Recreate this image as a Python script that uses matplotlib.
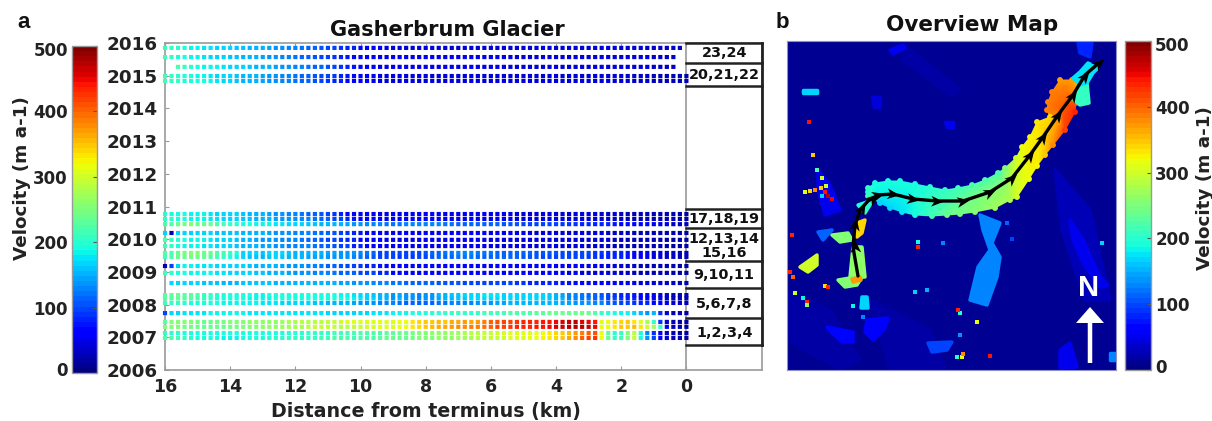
import numpy as np
import matplotlib
matplotlib.use("Agg")
import matplotlib.pyplot as plt
from matplotlib.cm import ScalarMappable
from matplotlib.collections import PolyCollection
from matplotlib.colors import Normalize
from matplotlib.markers import MarkerStyle
from matplotlib.path import Path
from matplotlib.transforms import Affine2D, ScaledTranslation

plt.rcParams['font.family'] = 'DejaVu Sans'
plt.rcParams['font.weight'] = 'bold'

W, H = 1212, 421
TXT = '#222222'
GRAY = '#9a9a9a'

# distance of every dot, 16 km to 0 km, 0.2 km apart
distance = 16 - 0.2 * np.arange(81)

# year position of each velocity profile, bottom to top
row_years = [2006.98, 2007.13, 2007.32, 2007.47, 2007.74, 2008.05, 2008.19, 2008.29,
             2008.66, 2008.97, 2009.18, 2009.46, 2009.58, 2009.79, 2009.98, 2010.19,
             2010.46, 2010.62, 2010.77, 2014.84, 2014.99, 2015.27, 2015.57, 2015.85]

# velocity (m a-1) read along each profile
rows = [
 [220,225,215,205,200,195,195,190,190,185, 185,185,190,190,190,195,200,200,200,205, 205,205,210,210,215,215,220,225,220,215, 220,225,225,230,235,235,240,240,245,250, 250,255,260,260,265,270,270,280,285,290, 290,295,300,305,305,310,315,320,325,330, 340,350,360,380,400,420,425,320,240,205, 215,255,290,190,140,100,60,40,30,25, 20],
 [205,200,200,195,195,190,190,190,190,190, 190,190,190,190,195,195,195,195,195,200, 200,200,205,205,210,210,215,215,215,215, 220,220,225,225,230,230,235,240,245,250, 255,260,265,265,270,270,280,285,285,295, 295,300,300,305,305,310,310,315,320,330, 340,345,355,370,385,405,410,320,230,200, 210,250,285,195,130,90,55,35,25,20, 20],
 [250,255,250,245,245,240,240,240,240,240, 245,245,250,255,255,260,265,265,270,270, 275,280,285,290,290,290,290,285,285,290, 295,300,300,305,305,310,315,320,330,340, 350,355,360,365,370,375,380,385,390,395, 405,415,420,425,430,430,435,440,445,450, 455,465,470,475,470,465,450,320,320,335, 345,350,355,330,300,270,210,60,35,25, 20],
 [230,250,255,250,250,245,240,240,245,245, 250,250,255,260,260,265,265,265,270,275, 280,285,285,285,285,290,295,300,310,305, 310,310,310,305,310,310,315,320,330,340, 345,350,355,350,360,365,370,365,370,385, 400,410,415,420,425,430,430,435,440,445, 450,460,465,470,460,450,440,310,315,330, 340,345,335,310,280,205,90,35,25,20, 20],
 [100,170,170,175,175,175,175,180,180,180, 180,180,180,175,175,175,175,175,175,175, 175,175,175,175,175,170,170,170,170,170, 170,170,175,175,175,180,185,185,190,195, 195,200,200,205,205,205,205,210,210,215, 215,215,215,220,220,225,225,230,230,235, 235,240,240,240,245,235,225,210,200,190, 185,180,170,155,140,150,90,45,30,25, 20],
 [215,210,205,200,195,195,190,190,190,185, 185,185,180,180,180,175,175,175,170,170, 170,165,165,160,160,155,155,150,150,145, 140,140,135,130,125,125,120,115,115,110, 110,115,120,120,125,125,130,130,135,135, 140,145,145,150,150,155,155,155,150,150, 150,145,145,140,140,135,130,125,115,105, 100,100,90,85,80,70,60,50,40,35, 30],
 [225,225,230,220,225,215,205,200,195,195, 190,190,190,185,185,185,185,190,190,190, 190,190,190,190,190,190,190,190,190,185, 175,170,165,150,155,140,150,140,135,130, 135,140,145,150,155,160,160,165,165,170, 170,170,170,170,165,165,165,170,165,160, 155,150,130,130,120,120,115,110,100,95, 90,85,80,70,60,50,50,35,30,25, 25],
 [230,230,235,230,230,220,210,205,200,195, 195,190,190,190,185,185,190,190,190,190, 190,190,190,190,190,190,190,185,180,175, 170,165,160,150,150,140,145,135,135,130, 135,140,150,150,160,160,165,170,170,175, 175,175,170,170,170,170,170,170,165,160, 150,145,130,125,120,115,110,105,95,90, 85,80,75,65,55,50,45,35,30,25, 25],
 [None,170,170,170,165,165,160,160,160,155, 155,155,160,160,160,160,160,155,155,155, 155,155,155,150,150,150,150,145,145,140, 135,135,130,125,125,120,120,115,115,110, 110,110,105,105,105,105,100,100,100,100, 100,95,95,95,90,90,85,85,85,80, 80,75,75,70,70,65,65,60,60,55, 55,50,50,45,45,40,40,35,35,30, 30],
 [215,200,190,190,185,185,180,180,175,175, 170,170,165,165,160,160,155,150,150,145, 140,140,135,130,130,125,120,115,115,110, 100,100,95,85,80,70,65,60,60,60, 60,65,65,65,65,65,65,65,65,65, 60,60,60,60,60,60,60,55,55,55, 55,55,50,50,45,45,45,40,40,40, 35,35,30,30,30,25,25,25,20,20, 20],
 [30,100,170,180,180,175,175,175,170,170, 170,165,165,160,155,155,150,150,145,140, 135,135,130,125,120,115,110,105,100,95, 90,85,80,75,65,60,60,60,65,65, 65,70,70,70,70,70,70,70,70,65, 65,65,65,65,65,60,60,60,60,60, 60,55,55,55,50,50,50,45,45,40, 40,35,35,30,30,30,25,25,25,20, 20],
 [215,220,235,240,245,240,235,225,215,205, 195,185,165,160,160,155,160,165,160,155, 150,150,145,145,145,140,140,135,135,125, 120,115,105,100,95,95,90,95,90,95, 100,105,110,115,115,120,120,120,115,115, 115,110,110,110,110,105,105,105,100,100, 100,100,95,95,95,90,90,85,85,80, 80,75,70,60,50,45,40,35,35,30, 30],
 [225,225,240,245,250,250,240,235,225,215, 205,190,170,165,165,160,165,170,165,160, 155,155,150,150,150,145,145,140,140,135, 125,120,110,100,100,100,95,100,95,100, 105,110,115,120,120,125,125,125,120,120, 120,115,115,115,110,110,110,105,105,105, 105,100,100,100,95,95,90,90,85,85, 80,75,70,60,50,45,40,35,35,30, 30],
 [215,205,195,185,180,180,175,175,170,170, 165,160,155,150,150,145,145,140,135,130, 130,125,125,120,115,110,105,100,95,85, 80,70,65,60,55,50,50,50,50,50, 50,50,50,50,50,50,50,50,50,50, 50,45,45,45,45,45,45,45,45,40, 40,40,40,40,40,35,35,35,35,30, 30,30,30,25,25,25,25,20,20,20, 20],
 [225,210,200,190,185,180,180,175,170,170, 165,160,155,150,145,140,140,135,130,125, 125,120,115,110,105,100,95,90,85,80, 70,65,60,55,50,50,45,45,45,50, 50,50,50,50,50,50,50,50,50,50, 45,45,45,45,45,45,45,45,45,40, 40,40,40,40,35,35,35,35,35,30, 30,30,30,25,25,25,20,20,20,20, 20],
 [170,30,170,170,170,165,165,165,160,160, 160,160,155,155,150,150,145,140,140,135, 130,130,125,120,115,110,105,100,90,85, 75,65,60,55,50,50,50,55,55,55, 60,60,60,60,60,55,55,55,55,55, 50,50,50,50,50,50,45,45,45,45, 45,45,40,40,40,40,40,40,35,35, 35,35,30,30,30,25,25,25,25,25, 20],
 [225,220,240,245,250,240,240,235,225,215, 205,200,195,190,185,180,180,175,175,170, 165,165,160,160,155,155,150,150,145,140, 135,130,125,125,120,120,120,125,125,130, 130,125,125,120,120,115,115,115,110,110, 110,110,105,105,105,100,100,100,100,95, 95,90,90,90,85,85,85,85,80,75, 70,70,65,60,55,50,45,40,35,30, 30],
 [210,200,195,190,185,180,180,175,175,170, 165,165,160,160,155,150,150,145,140,140, 135,130,125,120,115,110,100,95,85,75, 70,65,60,55,50,50,50,50,55,55, 55,55,55,50,50,50,50,50,50,50, 50,50,50,50,45,45,45,45,45,45, 45,40,40,40,40,40,40,35,35,35, 35,30,30,30,25,25,25,25,25,20, 20],
 [200,195,195,190,185,180,180,175,170,170, 165,165,160,155,155,150,145,140,135,130, 125,120,115,110,105,100,90,80,70,65, 60,55,50,50,50,50,50,50,50,55, 55,55,55,50,50,50,50,50,50,50, 50,50,50,50,45,45,45,45,45,45, 45,40,40,40,40,40,40,35,35,35, 35,30,30,30,25,25,25,25,25,20, 20],
 [215,205,210,195,195,190,190,180,175,170, 165,160,155,150,150,145,140,135,130,125, 120,115,110,105,95,90,85,80,70,65, 60,55,50,45,45,40,40,40,40,40, 45,45,45,45,45,45,45,45,45,45, 45,45,45,45,45,45,45,45,45,40, 40,40,40,40,40,40,40,40,40,40, 40,35,35,35,35,30,30,30,30,30, 25],
 [215,210,200,195,190,185,185,175,170,170, 165,160,155,150,150,145,140,135,130,125, 120,115,110,105,100,95,90,85,75,70, 65,60,55,50,45,45,45,45,45,45, 45,45,45,45,45,45,45,45,45,45, 45,45,45,45,45,45,45,45,45,40, 40,40,40,40,40,40,40,40,40,40, 40,35,35,35,35,30,30,30,30,30, 25],
 [None,None,225,205,200,190,185,180,180,175, 170,170,165,160,155,150,150,145,140,135, 130,125,120,115,110,105,95,90,80,75, 70,60,55,50,50,50,50,50,50,50, 50,50,50,50,50,50,50,50,50,50, 50,50,45,45,45,45,45,45,45,45, 45,45,45,45,45,45,45,40,40,40, 40,40,40,40,40,35,35,35,35,None, None],
 [215,205,195,190,185,180,175,170,170,165, 160,160,155,150,150,145,140,135,130,125, 120,115,110,105,100,95,90,80,75,70, 65,60,55,50,50,50,50,50,50,50, 50,50,50,50,50,50,50,50,50,50, 50,50,45,45,45,45,45,45,45,45, 45,45,45,45,45,45,45,40,40,40, 40,40,40,40,40,35,35,35,35,None, None],
 [205,205,200,195,185,180,175,175,170,170, 165,160,160,155,150,150,145,140,135,130, 125,120,115,110,105,100,95,90,85,80, 70,65,60,55,50,45,45,45,45,45, 45,45,45,45,45,45,45,45,45,45, 45,45,45,45,45,45,45,45,45,45, 45,45,45,45,45,40,40,40,40,40, 40,40,40,40,35,35,35,35,35,30, None],
]

year_ticks = [2006, 2007, 2008, 2009, 2010, 2011, 2012, 2013, 2014, 2015, 2016]
dist_ticks = [16, 14, 12, 10, 8, 6, 4, 2, 0]
vel_ticks = [0, 100, 200, 300, 400, 500]

# image groups shown in the side column
box_edges = [2016, 2015.39, 2014.68, 2010.91, 2010.34, 2009.33, 2008.51, 2007.59, 2006.76]
box_labels = ['23,24', '20,21,22', '17,18,19', '12,13,14', '15,16', '9,10,11', '5,6,7,8', '1,2,3,4']
box_label_years = [2015.70, 2015.02, 2010.62, 2010.01, 2009.58, 2008.90, 2008.01, 2007.12]

# overview map, coordinates are map pixels
map_background = 12
# glacier cross-sections: top x,y,v / middle x,y,v / bottom x,y,v
glacier_sections = [
    (868,188,210, 868,192,200, 868,196,205),
    (875,183,190, 878,193,185, 880,203,170),
    (888,181,190, 888,193,180, 890,208,165),
    (900,181,190, 902,197,185, 902,212,175),
    (915,184,195, 915,199,190, 915,215,190),
    (930,187,200, 930,200,205, 932,216,215),
    (945,190,205, 945,201,215, 947,215,235),
    (958,188,215, 958,201,230, 960,214,245),
    (972,185,225, 974,198,245, 975,212,255),
    (985,180,225, 990,192,255, 995,208,270),
    (998,173,225, 1005,185,265, 1010,200,280),
    (1005,168,250, 1013,180,290, 1017,197,300),
    (1016,158,300, 1025,167,315, 1029,179,315),
    (1022,147,320, 1032,155,330, 1037,166,325),
    (1030,137,325, 1040,140,335, 1045,155,345),
    (1037,122,330, 1047,132,345, 1053,145,380),
    (1050,117,340, 1058,122,370, 1065,130,420),
    (1047,110,385, 1062,108,400, 1075,112,430),
    (1048,102,385, 1062,98,395, 1076,103,410),
    (1052,92,385, 1065,88,390, 1076,93,380),
    (1060,80,370, 1072,80,370, 1082,86,340),
]
map_patch_values = [22, 22, 20, 24, 50, 45, 50, 170, 50, 80, 125, 50, 70, 60, 100, 50, 130, 170,
                    110, 250, 300, 260, 250, 370, 200, 340, 210, 175]
map_patches = [
    [(787,290),(830,310),(860,360),(840,369),(787,340)],
    [(905,45),(945,78),(960,90),(950,95),(903,60)],
    [(870,300),(930,330),(945,369),(890,369)],
    [(1055,170),(1090,210),(1110,300),(1085,300),(1062,230)],
    [(890,50),(903,45),(905,48),(893,54)],
    [(872,97),(880,97),(880,107),(874,107)],
    [(945,122),(953,122),(953,127),(947,127)],
    [(803,90),(817,90),(817,93),(803,93)],
    [(818,170),(830,185),(840,210),(825,215),(818,190)],
    [(1078,43),(1092,43),(1090,57),(1080,53)],
    [(980,215),(1000,223),(992,243),(1000,257),(997,277),(987,305),(970,300),(978,267),(990,250),(983,230)],
    [(1070,220),(1083,240),(1100,277),(1108,285),(1100,287),(1083,263),(1073,240)],
    [(827,327),(853,332),(853,342),(842,342),(832,333)],
    [(867,320),(888,318),(885,328),(873,340),(865,332)],
    [(928,343),(952,342),(947,350),(932,352)],
    [(1060,350),(1070,343),(1077,367),(1060,368)],
    [(1110,353),(1115,353),(1115,360),(1110,360)],
    [(862,297),(867,297),(868,308),(861,308)],
    [(818,232),(832,230),(823,240)],
    [(832,235),(848,233),(852,240),(840,242)],
    [(800,267),(810,260),(817,255),(817,265),(808,272)],
    [(853,247),(862,247),(865,277),(850,277)],
    [(838,280),(850,278),(862,277),(857,285),(845,287)],
    [(852,279),(860,277),(861,280),(853,282)],
    [(858,205),(873,200),(865,213)],
    [(857,223),(865,220),(862,233),(857,237)],
    [(1080,83),(1087,83),(1089,103),(1080,105),(1074,100)],
    [(1080,72),(1088,63),(1098,68),(1093,73),(1087,83),(1080,85),(1073,78)],
]
speck_x = [805,810,815,821,826,825,828,832,822,813,809,817,822,792,790,793,825,828,795,807,807,803,
           960,958,977,962,963,957,990,918,918,943,1102,1007,1012,853,915,927,960,863]
speck_y = [192,191,190,188,186,192,196,199,196,155,122,170,178,235,272,277,286,287,293,302,305,298,
           313,310,322,357,354,357,356,242,247,243,243,223,239,306,292,290,335,317]
speck_v = [310,340,380,350,300,440,470,450,170,350,440,220,300,430,430,400,340,430,300,430,260,180,
           200,430,320,320,380,200,440,190,430,130,170,110,100,180,170,150,140,130]
flow_x = [858,853,855,860,868,878,893,913,937,963,990,1012,1030,1043,1058,1073,1085,1100]
flow_y = [276,247,225,210,201,195,194,199,201,201,192,178,155,137,115,95,75,62]
arrow_x = [855,855,862,873,878,893,913,937,963,990,1012,1030,1043,1058,1073,1085,1099]
arrow_y = [246,224,208,198,195,194,199,201,201,192,178,155,137,115,95,76,63]


def fig_x(px):
    return px / W


def fig_y(py):
    return 1 - py / H


def add_axes(left, top, right, bottom):
    return fig.add_axes([fig_x(left), fig_y(bottom), (right - left) / W, (bottom - top) / H])


def style_colorbar(cax, labels_left):
    for s in cax.spines.values():
        s.set_color(GRAY)
        s.set_linewidth(1)
    cax.tick_params(axis='y', left=False, right=True, direction='in', length=3, color='#555555',
                    labelleft=labels_left, labelright=not labels_left, labelsize=12, labelcolor=TXT, pad=3)
    cax.set_yticks(vel_ticks)
    for lab, val in zip(cax.get_yticklabels(), vel_ticks):
        shift = {0: 3, 500: -2}.get(val, 0)
        lab.set_transform(lab.get_transform() + ScaledTranslation(0, shift / 72, fig.dpi_scale_trans))


fig = plt.figure(figsize=(W / 100, H / 100), dpi=100)
cmap = plt.get_cmap('jet', 64)
norm = Normalize(0, 500)

# panel a
ax = add_axes(165, 43, 762, 370)
for r_year, r_vals in zip(row_years, rows):
    dots = ax.scatter(distance, np.full(81, r_year), c=np.array(r_vals, dtype=float), cmap=cmap, norm=norm,
                      s=9, marker='s', linewidths=0, zorder=3, clip_on=False)
    dots.set_snap(False)
ax.set_xlim(16, -2.32)
ax.set_ylim(2006, 2016)
ax.set_xticks(dist_ticks)
ax.set_yticks(year_ticks)
ax.tick_params(axis='both', direction='in', length=3, color=GRAY, labelcolor=TXT, top=True)
ax.tick_params(axis='x', labelsize=12.5, pad=6)
ax.tick_params(axis='y', labelsize=13.2, pad=5)
for s in ax.spines.values():
    s.set_color(GRAY)
    s.set_linewidth(1.2)
ax.axvline(0, color=GRAY, lw=1.2, zorder=2)
ax.plot([-2.32, -2.32], [box_edges[-1], box_edges[0]], color='#222222', lw=2, clip_on=False, zorder=4)
for e in box_edges:
    ax.plot([0, -2.32], [e, e], color='#222222', lw=1.8, clip_on=False, zorder=4)
for lab, ly in zip(box_labels, box_label_years):
    ax.text(-1.16, ly, lab, ha='center', va='center', fontsize=10.4, color='#111111', zorder=5)

fig.text(fig_x(447), fig_y(30), 'Gasherbrum Glacier', ha='center', va='center', fontsize=15, color='#111111')
fig.text(fig_x(426), fig_y(411), 'Distance from terminus (km)', ha='center', va='center', fontsize=13.7, color=TXT)
fig.text(fig_x(17), fig_y(22), 'a', ha='left', va='center', fontsize=16, family='Liberation Sans', color='#111111')
fig.text(fig_x(776), fig_y(22), 'b', ha='left', va='center', fontsize=16, family='Liberation Sans', color='#111111')

# left colorbar
cax_a = add_axes(72, 46, 97, 373)
fig.colorbar(ScalarMappable(norm=norm, cmap=cmap), cax=cax_a)
cax_a.yaxis.set_ticks_position('left')
style_colorbar(cax_a, True)
fig.text(fig_x(22), fig_y(178), 'Velocity (m a-1)', rotation=90, ha='center', va='center', fontsize=13.2, color=TXT)

# panel b
bx = add_axes(787, 41, 1116, 370)
bx.set_facecolor(cmap(norm(map_background)))
bx.set_xlim(787, 1116)
bx.set_ylim(370, 41)
bx.set_xticks([])
bx.set_yticks([])
for s in bx.spines.values():
    s.set_color('#8f90c8')
    s.set_linewidth(0.8)

bx.add_collection(PolyCollection(map_patches, array=np.array(map_patch_values, dtype=float),
                                 cmap=cmap, norm=norm, linewidths=2.5, edgecolors='face',
                                 joinstyle='round', zorder=2))

sec = np.array(glacier_sections, dtype=float)
node_x = sec[:, [0, 3, 6]].ravel()
node_y = sec[:, [1, 4, 7]].ravel()
node_v = sec[:, [2, 5, 8]].ravel()
tris = []
for i in range(len(sec) - 1):
    for j in range(2):
        a, b = 3 * i + j, 3 * i + j + 1
        c, d = a + 3, b + 3
        tris += [[a, b, c], [b, d, c]]
bx.tripcolor(node_x, node_y, tris, node_v, shading='gouraud', cmap=cmap, norm=norm, zorder=1.5)
# bumpy outline of the glacier body
bx.scatter(node_x, node_y, c=node_v, cmap=cmap, norm=norm, s=18, marker='o', linewidths=0, zorder=1.6)
bx.scatter(speck_x, speck_y, c=speck_v, cmap=cmap, norm=norm, s=5, marker='s', linewidths=0, zorder=3)

bx.plot(flow_x, flow_y, color='black', lw=2.4, zorder=4, solid_capstyle='round')
head = Path([(7, 0), (-7, 6), (-3, 0), (-7, -6), (7, 0)], closed=True)
for i in range(len(arrow_x)):
    k = int(np.argmin(np.hypot(np.array(flow_x) - arrow_x[i], np.array(flow_y) - arrow_y[i])))
    k0, k1 = max(k - 1, 0), min(k + 1, len(flow_x) - 1)
    angle = np.degrees(np.arctan2(-(flow_y[k1] - flow_y[k0]), flow_x[k1] - flow_x[k0]))
    mk = MarkerStyle(head, transform=Affine2D().rotate_deg(angle))
    bx.plot([arrow_x[i]], [arrow_y[i]], marker=mk, color='black', ms=9, mew=0, zorder=5)

bx.text(1089, 288, 'N', color='white', ha='center', va='center', fontsize=21, family='Liberation Sans', zorder=6)
bx.arrow(1090, 363, 0, -56, width=4.5, head_width=28, head_length=16, length_includes_head=True,
         color='white', lw=0, zorder=6)

fig.text(fig_x(972), fig_y(25), 'Overview Map', ha='center', va='center', fontsize=15.5, color='#111111')

# right colorbar
cax_b = add_axes(1125, 41, 1151, 370)
fig.colorbar(ScalarMappable(norm=norm, cmap=cmap), cax=cax_b)
style_colorbar(cax_b, False)
fig.text(fig_x(1205), fig_y(188), 'Velocity (m a-1)', rotation=90, ha='center', va='center', fontsize=13.2, color=TXT)

fig.savefig('out.png', dpi=100)
